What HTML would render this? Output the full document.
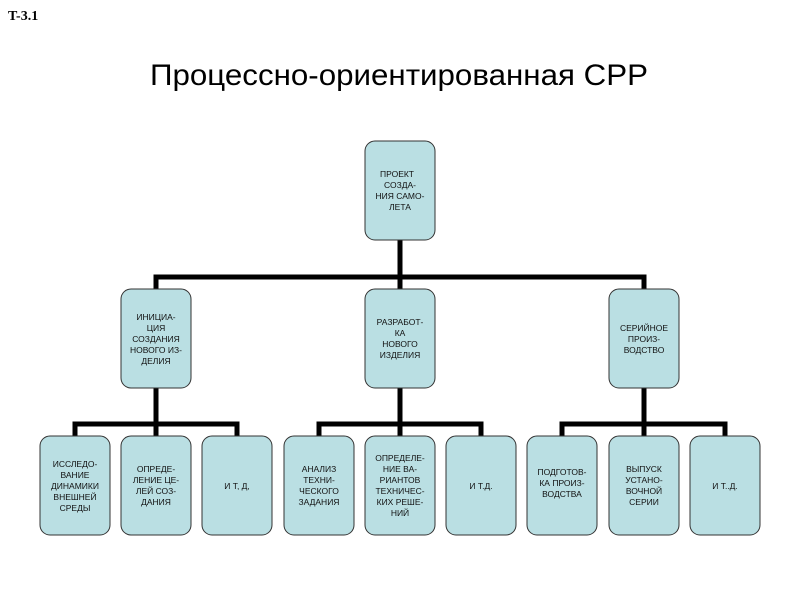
<!DOCTYPE html>
<html><head><meta charset="utf-8"><style>
html,body{margin:0;padding:0;background:#fff;}
svg{display:block;}
.t{font-family:"Liberation Sans",Arial,sans-serif;font-size:8.5px;fill:#111;text-anchor:middle;}
</style></head><body>
<svg width="800" height="600" viewBox="0 0 800 600" xmlns="http://www.w3.org/2000/svg">
<text x="8" y="20" font-family="Liberation Serif,serif" font-weight="bold" font-size="14" fill="#000">T-3.1</text>
<text x="399" y="85" font-family="Liberation Sans,sans-serif" font-size="30" fill="#000" text-anchor="middle" textLength="498" lengthAdjust="spacingAndGlyphs">Процессно-ориентированная СРР</text>
<g stroke="#000" stroke-width="5" fill="none">
<path d="M400 240 V289 M156 289 V277 H644 V289"/>
<path d="M156 388 V436 M75 436 V424 H237 V436"/>
<path d="M400 388 V436 M319 436 V424 H481 V436"/>
<path d="M644 388 V436 M562 436 V424 H725 V436"/>
</g>
<g fill="#badfe3" stroke="#333" stroke-width="1">
<rect x="365" y="141" width="70" height="99" rx="10"/>
<rect x="121" y="289" width="70" height="99" rx="10"/>
<rect x="365" y="289" width="70" height="99" rx="10"/>
<rect x="609" y="289" width="70" height="99" rx="10"/>
<rect x="40" y="436" width="70" height="99" rx="10"/>
<rect x="121" y="436" width="70" height="99" rx="10"/>
<rect x="202" y="436" width="70" height="99" rx="10"/>
<rect x="284" y="436" width="70" height="99" rx="10"/>
<rect x="365" y="436" width="70" height="99" rx="10"/>
<rect x="446" y="436" width="70" height="99" rx="10"/>
<rect x="527" y="436" width="70" height="99" rx="10"/>
<rect x="609" y="436" width="70" height="99" rx="10"/>
<rect x="690" y="436" width="70" height="99" rx="10"/>
</g>
<g class="t">
<text x="397" y="177">ПРОЕКТ</text><text x="400" y="188">СОЗДА-</text><text x="400" y="199">НИЯ САМО-</text><text x="400" y="210">ЛЕТА</text>
<text x="156" y="320">ИНИЦИА-</text><text x="156" y="331">ЦИЯ</text><text x="156" y="342">СОЗДАНИЯ</text><text x="156" y="353">НОВОГО  ИЗ-</text><text x="156" y="364">ДЕЛИЯ</text>
<text x="400" y="325">РАЗРАБОТ-</text><text x="400" y="336">КА</text><text x="400" y="347">НОВОГО</text><text x="400" y="358">ИЗДЕЛИЯ</text>
<text x="644" y="331">СЕРИЙНОЕ</text><text x="644" y="342">ПРОИЗ-</text><text x="644" y="353">ВОДСТВО</text>
<text x="75" y="467">ИССЛЕДО-</text><text x="75" y="478">ВАНИЕ</text><text x="75" y="489">ДИНАМИКИ</text><text x="75" y="500">ВНЕШНЕЙ</text><text x="75" y="511">СРЕДЫ</text>
<text x="156" y="472">ОПРЕДЕ-</text><text x="156" y="483">ЛЕНИЕ ЦЕ-</text><text x="156" y="494">ЛЕЙ СОЗ-</text><text x="156" y="505">ДАНИЯ</text>
<text x="237" y="489">И Т, Д,</text>
<text x="319" y="472">АНАЛИЗ</text><text x="319" y="483">ТЕХНИ-</text><text x="319" y="494">ЧЕСКОГО</text><text x="319" y="505">ЗАДАНИЯ</text>
<text x="400" y="461">ОПРЕДЕЛЕ-</text><text x="400" y="472">НИЕ ВА-</text><text x="400" y="483">РИАНТОВ</text><text x="400" y="494">ТЕХНИЧЕС-</text><text x="400" y="505">КИХ РЕШЕ-</text><text x="400" y="516">НИЙ</text>
<text x="481" y="489">И Т.Д.</text>
<text x="562" y="475">ПОДГОТОВ-</text><text x="562" y="486">КА ПРОИЗ-</text><text x="562" y="497">ВОДСТВА</text>
<text x="644" y="472">ВЫПУСК</text><text x="644" y="483">УСТАНО-</text><text x="644" y="494">ВОЧНОЙ</text><text x="644" y="505">СЕРИИ</text>
<text x="725" y="489">И Т..Д.</text>
</g>
</svg>
</body></html>
